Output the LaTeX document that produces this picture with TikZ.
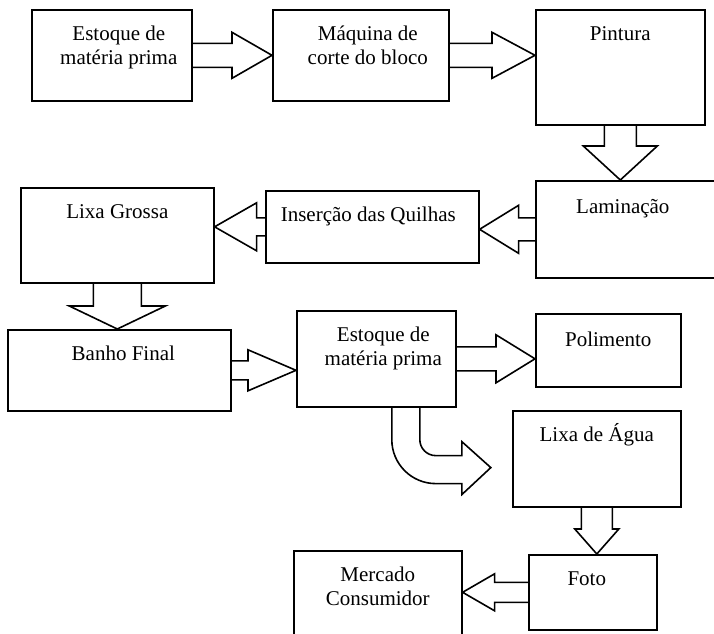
\documentclass[tikz,border=0pt]{standalone}
\usepackage{fontspec}
\setmainfont{Liberation Serif}
\usetikzlibrary{calc,positioning}

\begin{document}
\begin{tikzpicture}[x=1pt, y=-1pt,
        stage/.style={draw, line width=1.6pt, anchor=north west, inner sep=0pt},
        txt/.style={anchor=north, yshift=-11.5pt, inner sep=0pt, align=center,
            font=\fontsize{21}{24.5}\selectfont, execute at begin node={\rule{0pt}{20pt}}},
        blockarrow/.style n args={3}{draw, line width=1.6pt, to path={
            ($(\tikztotarget)!#3!(\tikztostart)$) coordinate (ah)
            ($(\tikztostart)!#1!90:(\tikztotarget)$) -- ($(ah)!#1!-90:(\tikztostart)$)
            -- ($(ah)!#2!-90:(\tikztostart)$) -- (\tikztotarget)
            -- ($(ah)!#2!90:(\tikztostart)$) -- ($(ah)!#1!90:(\tikztostart)$)
            -- ($(\tikztostart)!#1!-90:(\tikztotarget)$)}}
    ]
    \useasboundingbox (0,0) rectangle (714,633);

    % Row 1
    \node[stage, minimum width=160pt, minimum height=91pt,
        label={[txt, xshift=7pt, yshift=-5pt]90:Estoque de\\matéria prima}] (est1) at (31,9) {};
    \node[stage, minimum width=176pt, minimum height=91pt,
        label={[txt, xshift=7pt, yshift=-5pt]90:Máquina de\\corte do bloco}] (maq) at (272,9) {};
    \node[stage, minimum width=169pt, minimum height=115pt,
        label={[txt]90:Pintura}] (pint) at (535,9) {};

    % Row 2
    \node[stage, minimum width=190pt, minimum height=97pt,
        label={[txt, xshift=-8pt, yshift=-2pt]90:Laminação}] (lam) at (535,180) {};
    \node[stage, minimum width=213pt, minimum height=72pt,
        label={[txt, xshift=-4pt]90:Inserção das Quilhas}] (ins) at (265,190) {};
    \node[stage, minimum width=193pt, minimum height=95pt,
        label={[txt]90:Lixa Grossa}] (lixag) at (20,187) {};

    % Row 3
    \node[stage, minimum width=223pt, minimum height=81pt,
        label={[txt, xshift=4pt]90:Banho Final}] (banho) at (7,329) {};
    \node[stage, minimum width=159pt, minimum height=96pt,
        label={[txt, xshift=7pt, yshift=-5pt]90:Estoque de\\matéria prima}] (est2) at (296,310) {};
    \node[stage, minimum width=145pt, minimum height=73pt,
        label={[txt, yshift=-2pt]90:Polimento}] (pol) at (535,313) {};

    % Row 4
    \node[stage, minimum width=168pt, minimum height=96pt,
        label={[txt]90:Lixa de Água}] (lixaa) at (512,410) {};
    \node[stage, minimum width=128pt, minimum height=75pt,
        label={[txt, xshift=-6pt]90:Foto}] (foto) at (528,554) {};
    \node[stage, minimum width=168pt, minimum height=100pt,
        label={[txt, yshift=-5pt]90:Mercado\\Consumidor}] (merc) at (293,550) {};

    % Block arrows
    \path[blockarrow={12pt}{23pt}{40pt}] (est1.east) to (maq.west |- est1.east);
    \path[blockarrow={12pt}{23pt}{43pt}] (maq.east) to (pint.west |- maq.east);
    \path[blockarrow={16pt}{37pt}{34pt}] (pint.south) to (lam.north -| pint.south);
    \path[blockarrow={11.5pt}{24pt}{39pt}] (lam.west) to (ins.east |- lam.west);
    \path[blockarrow={9pt}{24pt}{42pt}] (ins.west) to (lixag.east |- ins.west);
    \path[blockarrow={24pt}{48pt}{23pt}] (lixag.south) to (banho.north -| lixag.south);
    \path[blockarrow={9.5pt}{20.5pt}{48pt}] (banho.east) to (est2.west |- banho.east);
    \path[blockarrow={12pt}{24pt}{39pt}] (est2.east) to (pol.west |- est2.east);
    \path[blockarrow={15.5pt}{22pt}{25pt}] (lixaa.south) to (foto.north -| lixaa.south);
    \path[blockarrow={10pt}{18.5pt}{32pt}] (foto.west) to (merc.east |- foto.west);

    % Curved arrow
    \draw[line width=1.6pt] ($(est2.south)+(15.5,0)$) -- ++(0,32)
        arc[start angle=180, end angle=270, radius=44pt] -- ++(26,0) -- ++(0,11)
        -- ++(29,-27) -- ++(-29,-26) -- ++(0,14) -- ++(-26,0)
        arc[start angle=270, end angle=180, radius=16pt] -- ++(0,-32);
\end{tikzpicture}
\end{document}
